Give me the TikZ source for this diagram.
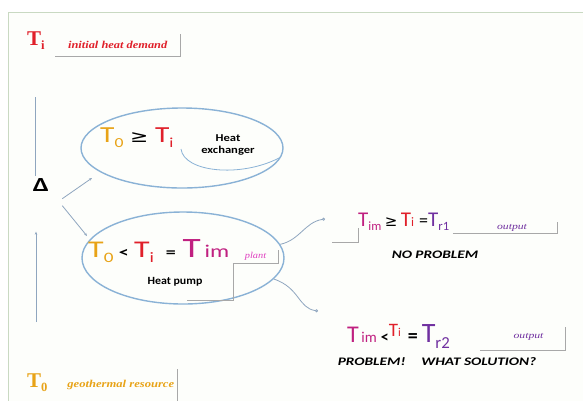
\documentclass[tikz,border=0pt]{standalone}
\usepackage{fontspec}
\setmainfont{Liberation Serif}
\newfontfamily\calfont{Carlito}
\newfontfamily\symf{DejaVu Sans}
\usetikzlibrary{arrows.meta,shapes.geometric}
\definecolor{tred}{HTML}{E0202A}
\definecolor{torange}{HTML}{E8A317}
\definecolor{tmag}{HTML}{C02080}
\definecolor{tpurp}{HTML}{7030A0}
\definecolor{tpink}{HTML}{E040C0}
\definecolor{elcol}{HTML}{8AB2D6}
\definecolor{conn}{HTML}{8FA6BF}
\definecolor{framecol}{HTML}{C9D9C2}
\definecolor{boxcol}{HTML}{A8A8A8}
\definecolor{bgcol}{HTML}{FDFEFB}
\newcommand{\sbs}[1]{\raisebox{-0.22em}{\scalebox{0.6}{#1}}}
\newcommand{\fs}[1]{\fontsize{#1}{#1}\selectfont}
\newcommand{\wide}[2][1.3]{\scalebox{#1}[1]{#2}}
\tikzset{
  ell/.style={draw=elcol, line width=1.4pt, ellipse, inner sep=0pt},
  eqn/.style={inner sep=0pt, anchor=base west, font=\calfont},
  lbl/.style={inner sep=0pt},
  boxln/.style={draw=boxcol, line width=0.7pt},
  conline/.style={draw=conn, line width=0.8pt},
  arr/.style={conline, -{Stealth[length=3pt,width=2.5pt]}},
  circend/.style={conline, -{Circle[open,length=3pt,width=3pt]}},
}
\begin{document}
\begin{tikzpicture}[x=1pt,y=-1pt]
\fill[white] (0,0) rectangle (583,400);
\useasboundingbox (0,0) rectangle (583,400);
\fill[bgcol] (8.5,12.5) rectangle (600,410);
\draw[framecol, line width=1.2pt] (8.5,410) -- (8.5,12.5) -- (600,12.5);

% top label
\node[lbl, anchor=base west, text=tred, font=\fs{21}\bfseries] (ti) at (27,45) {T\sbs{i}};
\node[lbl, anchor=south west, minimum width=125pt, minimum height=22pt, text=tred, font=\fs{10.5}\bfseries\itshape] (tilbl) at (55,56) {\wide[1.18]{initial heat demand}};
\draw[boxln] (tilbl.south west) -- (tilbl.south east) -- (tilbl.north east);

% bottom label
\node[lbl, anchor=base west, text=torange, font=\fs{21}\bfseries] (to) at (27,387) {T\sbs{0}};
\node[lbl, anchor=south east, minimum width=112pt, minimum height=32pt, text=torange, font=\fs{10.5}\bfseries\itshape] (tolbl) at (177,401) {\wide[1.2]{geothermal resource}};
\draw[boxln] (tolbl.south east) -- (tolbl.north east);

% delta
\node[lbl, font=\calfont\fs{20}\bfseries] (delta) at (41,185) {\wide[1.4]{Δ}};
\coordinate (v1) at (35,97);
\coordinate (v2) at (36,322);
\draw[conline] (v1) -- (delta.north -| v1) [shorten >=2pt];
\draw[arr] (v2) -- (delta.south -| v2) [shorten >=40pt];

% ellipses
\node[ell, minimum width=202pt, minimum height=80pt] (el1) at (182,148) {};
\node[ell, minimum width=202pt, minimum height=92pt] (el2) at (183,258) {};

\coordinate (a1) at (92,178);
\coordinate (a2) at (87,236);
\draw[arr] ([xshift=13pt,yshift=-7pt]delta.south east) -- (a1);
\draw[arr] ([xshift=13pt,yshift=-14pt]delta.south east) -- (a2);

% upper ellipse content
\node[eqn] (eqA) at (100,142) {\wide[1.28]{\fs{23}{\color{torange}T\sbs{0}} {\symf\fs{17}≥} {\color{tred}T\sbs{i}}}};
\draw[elcol, line width=0.8pt] (181,149) .. controls (184,172) and (240,178) .. (279,158);
\node[lbl, align=center, font=\calfont\fs{10.5}\bfseries] (hx) at (228,145) {\wide[1.2]{Heat}\\[2pt]\wide[1.2]{exchanger}};

% lower ellipse content
\node[eqn] (eqB) at (88,257) {\wide[1.33]{\fs{24}{\color{torange}T\sbs{0}}\,{\fs{15}\bfseries <}\,{\color{tred}T\sbs{i}}\hspace{9pt}{\fs{15}\bfseries =}\hspace{5pt}{\fs{28}\color{tmag}T{\fs{18}\,im}}}};
\node[lbl, minimum width=45pt, minimum height=13pt, text=tpink, font=\fs{9}\itshape] (plant) at (255.5,256.5) {\wide[1.15]{plant}};
\draw[boxln] (plant.south west) -- (plant.south east) -- (plant.north east);
\node[lbl, minimum width=116pt, minimum height=37pt, font=\calfont\fs{11}\bfseries] (hp) at (175,281.5) {\wide[1.08]{Heat pump}};
\draw[boxln] ([xshift=-46pt]hp.south east) -- (hp.south east) -- (hp.north east);

% connectors to results
\coordinate (c1) at (325,219);
\coordinate (c2) at (318,311);
\draw[circend] (el2.8) .. controls (300,240) and (305,222) .. (c1);
\draw[circend] (el2.-13) .. controls (300,288) and (298,308) .. (c2);

% result 1
\node[eqn] (eqC) at (358,226) {\fs{21}{\color{tmag}T\sbs{im}}\,{\symf\fs{15}≥}\,{\color{tred}T{\fs{13}i}}\hspace{5pt}{\fs{18}=}{\color{tpurp}T\sbs{r1}}};
\coordinate (br) at (332,242);
\draw[boxln] (br) -- (br -| eqC.west) -- ([yshift=-16pt]eqC.north west);
\node[lbl, minimum width=104pt, minimum height=11pt, text=tpurp, font=\fs{9}\itshape] (out1) at (505,227.5) {\hspace*{14pt}\wide[1.3]{output}};
\draw[boxln] (out1.south west) -- (out1.south east) -- (out1.north east);
\node[lbl, font=\calfont\fs{11.5}\bfseries\itshape] (np) at (435,255) {\wide[1.33]{NO PROBLEM}};

% result 2
\node[eqn] (eqD) at (347,342) {\fs{24}{\color{tmag}T{\fs{15}\,im}}\,{\fs{16}\bfseries <}\raisebox{6pt}{\color{tred}\fs{19}T{\fs{12}i}}\hspace{7pt}{\fs{20}\bfseries =}\,{\color{tpurp}\fs{28}T\sbs{r2}}};
\node[lbl, minimum width=85pt, minimum height=23pt, text=tpurp, font=\fs{9}\itshape] (out2) at (522.5,338.5) {\raisebox{5pt}{\hspace*{12pt}\wide[1.3]{output}}};
\draw[boxln] (out2.south west) -- (out2.south east) -- (out2.north east);
\node[lbl, font=\calfont\fs{11.5}\bfseries\itshape] (pb) at (437,362) {\wide[1.33]{PROBLEM!\hspace{12pt}WHAT SOLUTION?}};
\end{tikzpicture}
\end{document}
